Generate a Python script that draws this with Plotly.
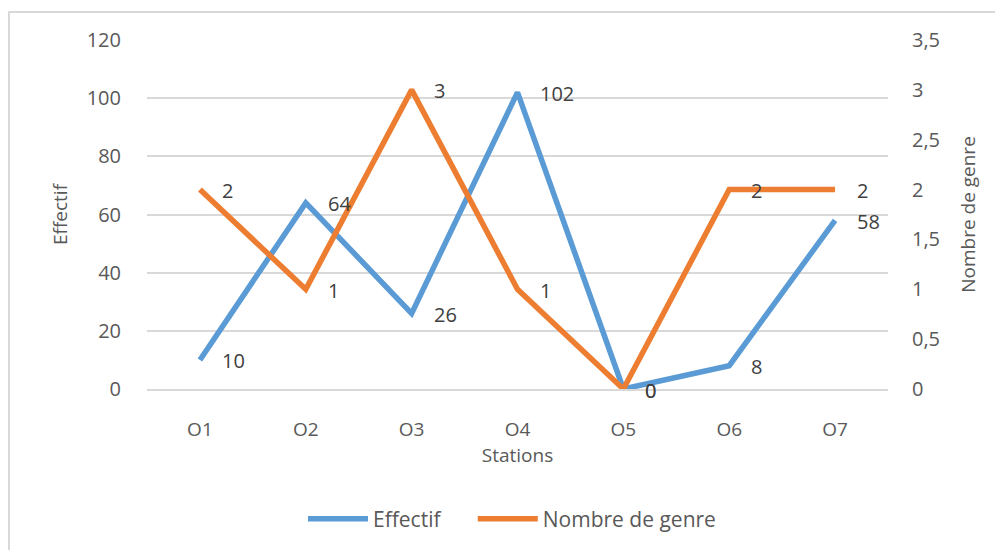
import plotly.graph_objects as go

stations = ["O1", "O2", "O3", "O4", "O5", "O6", "O7"]
effectif = [10, 64, 26, 102, 0, 8, 58]
nombre_genre = [2, 1, 3, 1, 0, 2, 2]
left_ticks = [0, 20, 40, 60, 80, 100, 120]
right_ticks = [0, 0.5, 1, 1.5, 2, 2.5, 3, 3.5]
right_labels = ["0", "0,5", "1", "1,5", "2", "2,5", "3", "3,5"]

FONT = "Open Sans"
GRAY = "#595959"
BLUE = "#5B9BD5"
ORANGE = "#ED7D31"

# page body has an 8px default margin; compensate so plot sits where the reference has it
OFF = 8
PL, PR, PT, PB = 147 - OFF, 888 - OFF, 40 - OFF, 389 - OFF
W, H = 1003, 550

fig = go.Figure()
fig.add_trace(go.Scatter(
    x=stations, y=effectif, name="Effectif" + "\u00a0" * 5, mode="lines",
    line=dict(color=BLUE, width=5.5),
))
fig.add_trace(go.Scatter(
    x=stations, y=nombre_genre, name="Nombre de genre", mode="lines",
    line=dict(color=ORANGE, width=5.5), yaxis="y2",
))

annots = []
for s, v in zip(stations, effectif):
    annots.append(dict(x=s, y=v, xref="x", yref="y", text=str(v), showarrow=False,
                       xanchor="left", yanchor="middle", xshift=20, yshift=-1,
                       font=dict(family=FONT, size=20, color="#404040")))
for s, v in zip(stations, nombre_genre):
    annots.append(dict(x=s, y=v, xref="x", yref="y2", text=str(v), showarrow=False,
                       xanchor="left", yanchor="middle", xshift=20, yshift=-1,
                       font=dict(family=FONT, size=20, color="#404040")))

fig.update_layout(
    width=W, height=H,
    margin=dict(l=PL, r=W - PR, t=PT, b=H - PB, autoexpand=False),
    paper_bgcolor="white", plot_bgcolor="white",
    font=dict(family=FONT, color=GRAY, size=16),
    annotations=annots,
    xaxis=dict(
        range=[-0.5, 6.5],
        showgrid=False, showline=True, linecolor="#D9D9D9", linewidth=1.5,
        ticks="", tickfont=dict(size=19, color=GRAY),
        ticklabelstandoff=22,
        title=dict(text="Stations", font=dict(size=19, color=GRAY), standoff=6),
    ),
    yaxis=dict(
        range=[0, 120], tickvals=left_ticks, showgrid=True,
        gridcolor="#D9D9D9", gridwidth=1.5, zeroline=False, showline=False,
        ticks="", ticklabelstandoff=25, tickfont=dict(size=20, color=GRAY),
        title=dict(text="Effectif", font=dict(size=19, color=GRAY), standoff=14),
    ),
    yaxis2=dict(
        range=[0, 3.5], tickvals=right_ticks, ticktext=right_labels,
        overlaying="y", side="right", showgrid=False, zeroline=False,
        showline=False, ticks="", ticklabelstandoff=23,
        tickfont=dict(size=20, color=GRAY),
        title=dict(text="Nombre de genre", font=dict(size=19, color=GRAY), standoff=22),
    ),
    legend=dict(
        orientation="h", x=(512 - OFF - PL) / (PR - PL), xanchor="center",
        y=(PB - (519 - OFF)) / (PB - PT), yanchor="middle",
        font=dict(size=21, color=GRAY), itemwidth=60, tracegroupgap=0,
    ),
    showlegend=True,
)

fig.add_shape(
    type="rect", xref="paper", yref="paper",
    x0=(9 - OFF - PL) / (PR - PL), x1=(1020 - PL) / (PR - PL),
    y0=(PB - 570) / (PB - PT), y1=(PB - (12 - OFF)) / (PB - PT),
    line=dict(color="#D9D9D9", width=2), fillcolor="rgba(0,0,0,0)", layer="below",
)

fig.write_html("out.html")
